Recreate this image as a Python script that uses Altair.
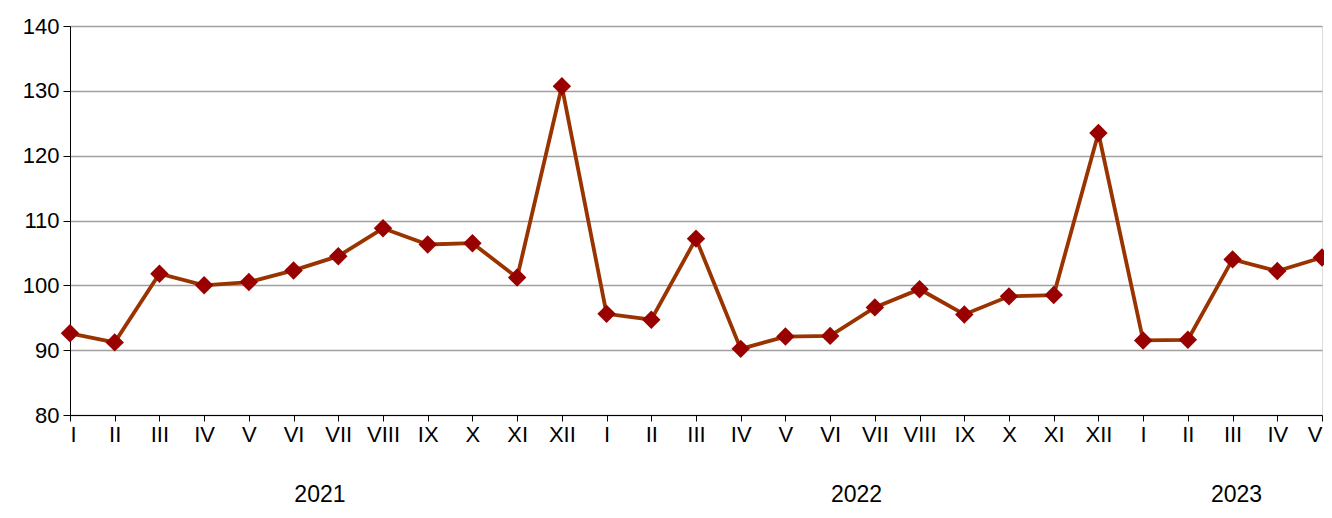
import altair as alt
import pandas as pd

years = [2021] * 12 + [2022] * 12 + [2023] * 5
months = ["I", "II", "III", "IV", "V", "VI", "VII", "VIII", "IX", "X", "XI", "XII"] * 2 + ["I", "II", "III", "IV", "V"]
values = [92.6, 91.2, 101.8, 100.0, 100.5, 102.3, 104.5, 108.8, 106.3, 106.5, 101.2, 130.7,
          95.6, 94.7, 107.2, 90.2, 92.1, 92.2, 96.6, 99.4, 95.5, 98.3, 98.5, 123.5,
          91.5, 91.6, 104.0, 102.2, 104.3]
y_ticks = [80, 90, 100, 110, 120, 130, 140]

df = pd.DataFrame({"idx": list(range(len(values))), "month": months, "year": years, "value": values})

FONT = "Liberation Sans"
label_expr = "[" + ",".join(f"'{m}'" for m in months) + "][datum.value]"

x = alt.X("idx:Q", scale=alt.Scale(domain=[0, len(values) - 1], nice=False, zero=False),
          axis=alt.Axis(values=list(range(len(values))), labelExpr=label_expr, title=None,
                        grid=False, domainColor="#000000", tickColor="#000000", tickSize=6,
                        labelFont=FONT, labelFontSize=22, labelColor="#000000", labelPadding=3,
                        labelOverlap=False, labelFlush=True))
y = alt.Y("value:Q", scale=alt.Scale(domain=[80, 140], nice=False, zero=False),
          axis=alt.Axis(values=y_ticks, title=None, grid=True, gridColor="#a0a0a0", gridWidth=1.3,
                        domainColor="#000000", tickColor="#000000", tickSize=7,
                        labelFont=FONT, labelFontSize=22, labelColor="#000000", labelPadding=4))

base = alt.Chart(df)
line = base.mark_line(color="#993300", strokeWidth=3.8).encode(x=x, y=y)
pts = base.mark_point(shape="diamond", filled=True, color="#990000", size=340, opacity=1).encode(x="idx:Q", y="value:Q")

yr = base.transform_aggregate(center="mean(idx)", groupby=["year"]).mark_text(
    font=FONT, fontSize=23, color="#000000", baseline="alphabetic", dx=4
).encode(x="center:Q", y=alt.value(476), text="year:N")

chart = alt.layer(line, pts, yr).properties(
    width=1252, height=389,
    autosize=alt.AutoSizeParams(type="none"),
    padding={"left": 62, "top": 18, "right": 2, "bottom": 95},
).configure_view(stroke=None).configure(background="#ffffff")

chart.save("out.html", embed_options={"renderer": "svg", "actions": False})
